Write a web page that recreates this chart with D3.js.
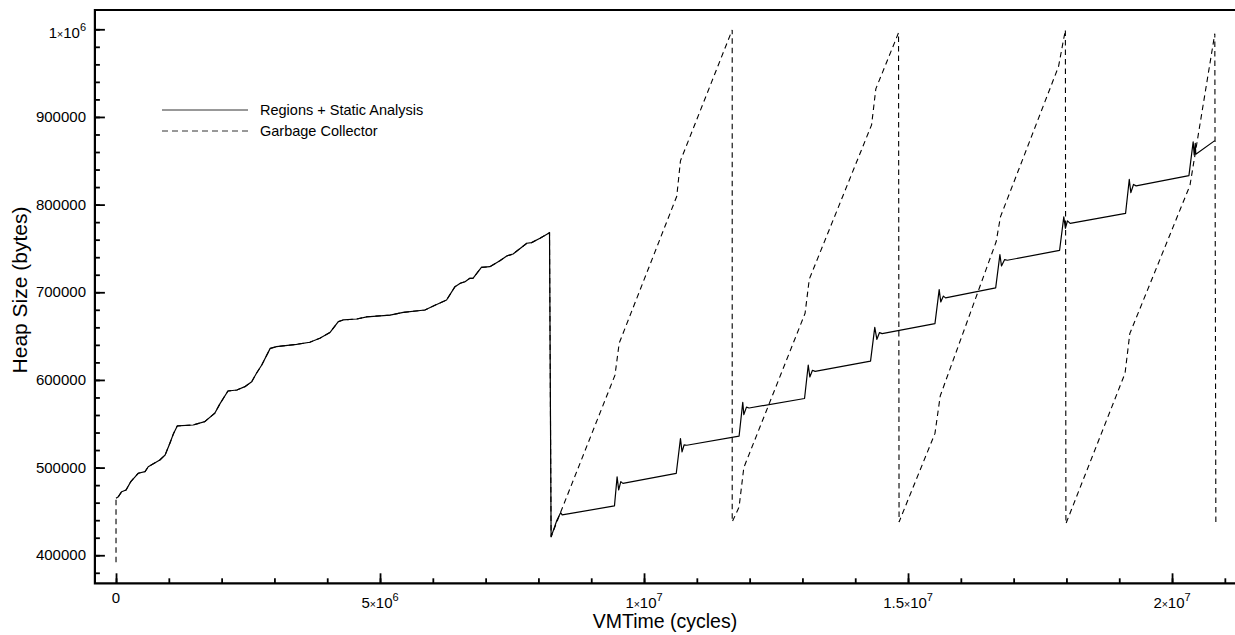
<!DOCTYPE html>
<html>
<head>
<meta charset="utf-8">
<script src="https://cdn.jsdelivr.net/npm/d3@7"></script>
<style>
  body { margin: 0; background: #fff; }
  svg text { font-family: "Liberation Sans", Arial, Helvetica, sans-serif; fill: #000; }
</style>
</head>
<body>
<script>
// heap size (bytes) sampled against VM time (cycles), read off the plot
// both runs share the same warm-up until the first drop
var gcStartTime = [0];
var gcStartHeap = [392000];

var warmupTime = [0, 0.044e6, 0.107e6, 0.19e6, 0.28e6, 0.42e6, 0.55e6, 0.61e6, 0.83e6, 0.93e6,
                  1.02e6, 1.09e6, 1.16e6, 1.46e6, 1.68e6, 1.87e6, 1.97e6, 2.12e6, 2.29e6, 2.44e6,
                  2.57e6, 2.66e6, 2.76e6, 2.92e6, 3.04e6, 3.42e6, 3.67e6, 3.86e6, 4.05e6, 4.21e6,
                  4.30e6, 4.56e6, 4.75e6, 5.19e6, 5.44e6, 5.85e6, 6.01e6, 6.26e6, 6.42e6, 6.52e6,
                  6.61e6, 6.70e6, 6.76e6, 6.92e6, 7.08e6, 7.27e6, 7.40e6, 7.52e6, 7.78e6, 7.87e6,
                  8.03e6, 8.21e6];
var warmupHeap = [465000, 466800, 472500, 474500, 484000, 493500, 495400, 501000, 508700, 514400,
                  527700, 539000, 547500, 548600, 552400, 562000, 573000, 587400, 588500, 592300,
                  598000, 607600, 617000, 636000, 638000, 640600, 643000, 647500, 654000, 666500,
                  668400, 669500, 672000, 674000, 677000, 679800, 684400, 691200, 706400, 710300,
                  712000, 715900, 715900, 728400, 729200, 736000, 741400, 743700, 755900, 756600,
                  761600, 768000];

var regionsTime = [8.24e6, 8.35e6, 8.42e6, 8.45e6, 9.44e6, 9.49e6, 9.52e6, 9.56e6, 9.60e6,
                   10.61e6, 10.69e6, 10.72e6, 10.76e6, 10.81e6,
                   11.80e6, 11.87e6, 11.89e6, 11.94e6, 11.99e6,
                   13.04e6, 13.11e6, 13.14e6, 13.19e6, 13.24e6,
                   14.29e6, 14.37e6, 14.41e6, 14.46e6, 14.51e6,
                   15.51e6, 15.59e6, 15.62e6, 15.67e6, 15.71e6,
                   16.66e6, 16.74e6, 16.77e6, 16.83e6, 16.88e6,
                   17.87e6, 17.95e6, 17.98e6, 18.02e6, 18.07e6,
                   19.12e6, 19.19e6, 19.22e6, 19.27e6, 19.32e6,
                   20.32e6, 20.40e6, 20.42e6, 20.44e6, 20.45e6, 20.81e6];
var regionsHeap = [421000, 440000, 448600, 446000, 456300, 489500, 474500, 484000, 482000,
                   493300, 533000, 518000, 526000, 525500,
                   535800, 574500, 560400, 569000, 568000,
                   578800, 617000, 603400, 611000, 609800,
                   621400, 660000, 646300, 654000, 652800,
                   664300, 703000, 689000, 695600, 693600,
                   705000, 742900, 730000, 737300, 736500,
                   747700, 786000, 773000, 781500, 778600,
                   790000, 828700, 813600, 823000, 821400,
                   833000, 871700, 856700, 870000, 857500, 873000];

var gcTime = [8.24e6, 8.42e6, 9.45e6, 9.53e6, 10.62e6, 10.69e6, 11.67e6,
              11.67e6, 11.80e6, 11.89e6, 13.05e6, 13.13e6, 14.31e6, 14.39e6, 14.82e6,
              14.83e6, 15.51e6, 15.61e6, 16.67e6, 16.75e6, 17.85e6, 17.98e6,
              17.99e6, 19.11e6, 19.20e6, 20.34e6, 20.81e6, 20.83e6];
var gcHeap = [421000, 449000, 605500, 642000, 809500, 850000, 999300,
              438000, 455000, 500000, 676000, 715000, 891000, 932000, 996000,
              438000, 539000, 581800, 757900, 786000, 957500, 999300,
              436000, 607600, 652800, 822000, 995000, 433700];

var xTicks = [0, 5e6, 1e7, 1.5e7, 2e7];
var yTicks = [400000, 500000, 600000, 700000, 800000, 900000, 1000000];
var seriesNames = ["Regions + Static Analysis", "Garbage Collector"];

var w = 1235, h = 635;
var plotL = 94.9, plotR = 1235.4, plotT = 10, plotB = 583.3;

var x = d3.scaleLinear().domain([-0.4e6, 21.2e6]).range([plotL, plotR]);
var y = d3.scaleLinear().domain([368000, 1022000]).range([plotB, plotT]);

function zip(a, b) {
	return a.map(function(d, i) { return [d, b[i]]; });
}

var regionsPts = zip(warmupTime, warmupHeap).concat(zip(regionsTime, regionsHeap));
var gcPts = zip(gcStartTime, gcStartHeap)
	.concat(zip(warmupTime, warmupHeap))
	.concat(zip(gcTime, gcHeap));

var svg = d3.select("body").append("svg")
	.attr("width", w)
	.attr("height", h);

svg.append("rect").attr("width", w).attr("height", h).attr("fill", "#fff");

svg.append("clipPath").attr("id", "plot")
	.append("rect")
	.attr("x", plotL).attr("y", plotT)
	.attr("width", plotR - plotL).attr("height", plotB - plotT);

var line = d3.line()
	.x(function(d) { return x(d[0]); })
	.y(function(d) { return y(d[1]); });

var plot = svg.append("g").attr("clip-path", "url(#plot)");

plot.append("path")
	.datum(gcPts)
	.attr("d", line)
	.attr("fill", "none")
	.attr("stroke", "#000")
	.attr("stroke-width", 1.1)
	.attr("stroke-dasharray", "5.5,4");

plot.append("path")
	.datum(regionsPts)
	.attr("d", line)
	.attr("fill", "none")
	.attr("stroke", "#000")
	.attr("stroke-width", 1.2)
	.attr("stroke-linejoin", "round");

// ticks point inwards; minor ones first
svg.append("g")
	.attr("transform", "translate(0," + plotB + ")")
	.call(d3.axisBottom(x).tickValues(d3.range(0, 21.5e6, 1e6)).tickSize(-5).tickFormat(""))
	.call(function(g) { g.select(".domain").remove(); });

svg.append("g")
	.attr("transform", "translate(0," + plotB + ")")
	.call(d3.axisBottom(x).tickValues(xTicks).tickSize(-10).tickFormat(""))
	.call(function(g) { g.select(".domain").remove(); });

svg.append("g")
	.attr("transform", "translate(" + plotL + ",0)")
	.call(d3.axisLeft(y).tickValues(d3.range(380000, 1020000, 20000)).tickSize(-5).tickFormat(""))
	.call(function(g) { g.select(".domain").remove(); });

svg.append("g")
	.attr("transform", "translate(" + plotL + ",0)")
	.call(d3.axisLeft(y).tickValues(yTicks).tickSize(-10).tickFormat(""))
	.call(function(g) { g.select(".domain").remove(); });

svg.selectAll(".tick line").attr("stroke", "#000").attr("stroke-width", 1.8);

// frame: top, left, bottom
svg.append("path")
	.attr("d", "M" + (w + 5) + "," + plotT + "H" + plotL + "V" + plotB + "H" + (w + 5))
	.attr("fill", "none")
	.attr("stroke", "#000")
	.attr("stroke-width", 2.2);

// tick labels written like 1.5×10^7
function parts(v) {
	if (v < 1e6) return { m: String(v) };
	var e = Math.floor(Math.log10(v));
	return { m: String(+(v / Math.pow(10, e)).toFixed(2)), e: e };
}

function writeLabel(t, v) {
	var p = parts(v);
	if (p.e === undefined) {
		t.text(p.m);
		return;
	}
	t.append("tspan").text(p.m);
	t.append("tspan").attr("font-size", "10.5px").text("×");
	t.append("tspan").text("10");
	t.append("tspan").attr("font-size", "11px").attr("dy", -7.5).text(p.e);
}

svg.selectAll(".xlab")
	.data(xTicks)
	.enter()
	.append("text")
	.attr("class", "xlab")
	.attr("x", function(d) { return x(d); })
	.attr("y", function(d) { return d < 1e6 ? 603 : 608; })
	.attr("text-anchor", "middle")
	.attr("font-size", "15px")
	.each(function(d) { writeLabel(d3.select(this), d); });

svg.selectAll(".ylab")
	.data(yTicks)
	.enter()
	.append("text")
	.attr("class", "ylab")
	.attr("x", 86)
	.attr("y", function(d) { return y(d) + (d < 1e6 ? 5 : 9); })
	.attr("text-anchor", "end")
	.attr("font-size", "15px")
	.each(function(d) { writeLabel(d3.select(this), d); });

svg.append("text")
	.attr("x", 665)
	.attr("y", 628)
	.attr("text-anchor", "middle")
	.attr("font-size", "19.5px")
	.text("VMTime (cycles)");

svg.append("text")
	.attr("transform", "translate(27,290) rotate(-90)")
	.attr("text-anchor", "middle")
	.attr("font-size", "21px")
	.text("Heap Size (bytes)");

// legend
var legend = svg.selectAll(".legend")
	.data(seriesNames)
	.enter()
	.append("g")
	.attr("class", "legend")
	.attr("transform", function(d, i) { return "translate(162," + (110 + i * 21) + ")"; });

legend.append("line")
	.attr("x1", 0).attr("x2", 86)
	.attr("stroke", "#333")
	.attr("stroke-width", 1)
	.attr("stroke-dasharray", function(d, i) { return i ? "6,4" : null; });

legend.append("text")
	.attr("x", 98)
	.attr("dy", "0.35em")
	.attr("font-size", "14.5px")
	.text(function(d) { return d; });
</script>
</body>
</html>
